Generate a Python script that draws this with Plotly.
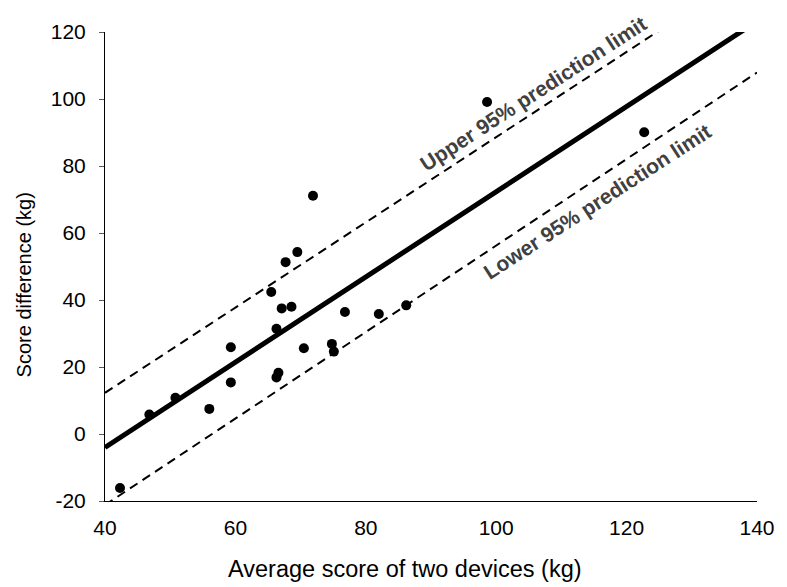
import plotly.graph_objects as go

# Data points (average score of two devices, score difference)
avg_score = [42.3, 46.8, 50.8, 56.0, 59.3, 59.3, 65.5, 66.3, 66.3, 66.6, 67.1, 67.7,
             68.6, 69.5, 70.5, 71.9, 74.8, 75.1, 76.8, 82.0, 86.2, 98.6, 122.7]
score_diff = [-16.1, 5.8, 10.8, 7.5, 25.9, 15.4, 42.4, 31.4, 16.9, 18.3, 37.5, 51.3,
              38.0, 54.3, 25.6, 71.1, 26.9, 24.6, 36.4, 35.8, 38.4, 99.1, 90.1]

# Regression and prediction limits, read as values at x = 40 and x = 140
line_x = [40, 140]
fit_y = [-4.0, 123.2]
upper_y = [12.3, 139.5]
lower_y = [-21.2, 107.9]

x_ticks = [40, 60, 80, 100, 120, 140]
x_tick_labels = ["40", "60", "80", "100", "120", "140"]
y_ticks = [-20, 0, 20, 40, 60, 80, 100, 120]
y_tick_labels = ["-20", "0", "20", "40", "60", "80", "100", "120"]

FONT = "Liberation Sans, Arial, sans-serif"

fig = go.Figure()
fig.add_trace(go.Scatter(x=line_x, y=upper_y, mode="lines",
                         line=dict(color="black", width=2, dash="9px,6px"),
                         hoverinfo="skip"))
fig.add_trace(go.Scatter(x=line_x, y=lower_y, mode="lines",
                         line=dict(color="black", width=2, dash="9px,6px"),
                         hoverinfo="skip"))
fig.add_trace(go.Scatter(x=line_x, y=fit_y, mode="lines",
                         line=dict(color="black", width=5),
                         hoverinfo="skip"))
fig.add_trace(go.Scatter(x=avg_score, y=score_diff, mode="markers",
                         marker=dict(color="black", size=10)))

fig.add_annotation(x=105.7, y=101.5, text="<b>Upper 95% prediction limit</b>",
                   showarrow=False, textangle=-33,
                   font=dict(family=FONT, size=21, color="#404040"))
fig.add_annotation(x=115.5, y=69.5, text="<b>Lower 95% prediction limit</b>",
                   showarrow=False, textangle=-33,
                   font=dict(family=FONT, size=21, color="#404040"))

# Axis titles
fig.add_annotation(xref="paper", yref="paper", x=0.46, y=-0.145,
                   xanchor="center", yanchor="middle", showarrow=False,
                   text="Average score of two devices (kg)",
                   font=dict(family=FONT, size=23.5, color="black"))
fig.add_annotation(xref="paper", yref="paper", x=-0.124, y=0.46,
                   xanchor="center", yanchor="middle", showarrow=False,
                   textangle=-90, text="Score difference (kg)",
                   font=dict(family=FONT, size=20, color="black"))

fig.update_layout(
    width=779, height=579,
    margin=dict(l=97, r=20, t=19, b=86),
    paper_bgcolor="white", plot_bgcolor="white",
    showlegend=False,
    font=dict(family=FONT, size=21, color="black"),
    xaxis=dict(range=[40, 140], tickvals=x_ticks, ticktext=x_tick_labels,
               showgrid=False, zeroline=False, showline=True,
               linecolor="black", linewidth=1, ticks="",
               ticklabelstandoff=8),
    yaxis=dict(range=[-20, 120], tickvals=y_ticks, ticktext=y_tick_labels,
               showgrid=False, zeroline=False, showline=True,
               linecolor="black", linewidth=1, ticks="outside",
               ticklen=5, tickcolor="#595959", tickwidth=1,
               ticklabelstandoff=9),
)

fig.write_html("out.html")
